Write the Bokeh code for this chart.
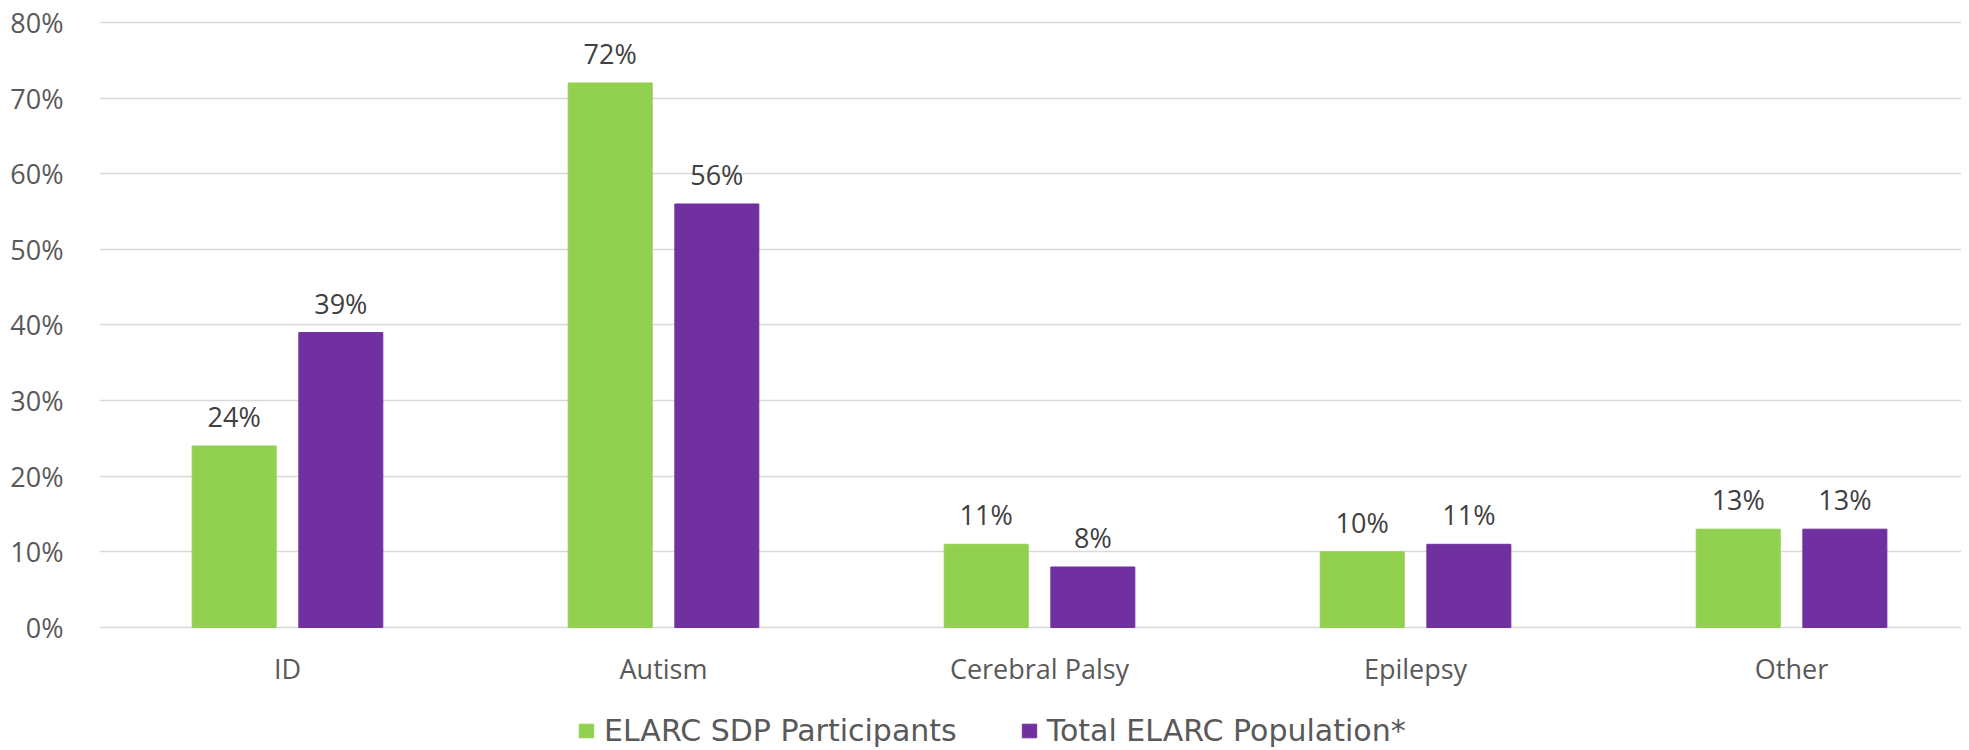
from bokeh.plotting import figure
from bokeh.models import (ColumnDataSource, Range1d, FixedTicker, PrintfTickFormatter,
                          LabelSet, Legend, LegendItem)
from bokeh.core.properties import value
from bokeh.transform import dodge
from bokeh.embed import file_html
from bokeh.resources import INLINE

categories = ["ID", "Autism", "Cerebral Palsy", "Epilepsy", "Other"]
sdp_participants = [24, 72, 11, 10, 13]
total_population = [39, 56, 8, 11, 13]
series_names = ["ELARC SDP Participants", "Total ELARC Population*"]
y_ticks = [0, 10, 20, 30, 40, 50, 60, 70, 80]

GREEN = "#92D050"
PURPLE = "#7030A0"

idx = list(range(len(categories)))
src = ColumnDataSource(dict(
    x=idx,
    cat=categories,
    a=sdp_participants,
    b=total_population,
    la=[f"{v}%" for v in sdp_participants],
    lb=[f"{v}%" for v in total_population],
))

p = figure(width=1961, height=748, output_backend="svg", toolbar_location=None,
           x_range=Range1d(-0.5, 4.452), y_range=Range1d(-16.0, 80.13),
           min_border_left=99, min_border_right=0, min_border_top=21,
           min_border_bottom=0)
p.outline_line_color = None
p.background_fill_color = "white"
p.border_fill_color = "white"

off = 0.1418
bw = 0.2234
ra = p.vbar(x=dodge("x", -off, range=p.x_range), top="a", width=bw, source=src,
            fill_color=GREEN, line_color=GREEN)
rb = p.vbar(x=dodge("x", off, range=p.x_range), top="b", width=bw, source=src,
            fill_color=PURPLE, line_color=PURPLE)

lab_font = "Open Sans"
for col, lcol, o in (("a", "la", -off), ("b", "lb", off)):
    ls = LabelSet(x=dodge("x", o, range=p.x_range), y=col, text=lcol, source=src,
                  text_align="center", text_baseline="alphabetic", y_offset=19,
                  text_font=value(lab_font), text_font_size=value("27px"),
                  text_color="#404040")
    p.add_layout(ls)

# axes
p.yaxis.ticker = FixedTicker(ticks=y_ticks)
p.yaxis.formatter = PrintfTickFormatter(format="%d%%")
p.yaxis.axis_line_color = None
p.yaxis.major_tick_line_color = None
p.yaxis.minor_tick_line_color = None
p.yaxis.major_label_standoff = 30
p.yaxis.major_label_text_font = lab_font
p.yaxis.major_label_text_font_size = "27px"
p.yaxis.major_label_text_color = "#595959"

p.xaxis.fixed_location = 0
p.xaxis.ticker = FixedTicker(ticks=idx)
p.xaxis.major_label_overrides = {i: c for i, c in zip(idx, categories)}
p.xaxis.axis_line_color = None
p.xaxis.major_tick_line_color = None
p.xaxis.minor_tick_line_color = None
p.xaxis.major_label_standoff = 17
p.xaxis.major_label_text_font = lab_font
p.xaxis.major_label_text_font_size = "27px"
p.xaxis.major_label_text_color = "#595959"

p.xgrid.grid_line_color = None
p.ygrid.ticker = FixedTicker(ticks=y_ticks)
p.ygrid.grid_line_color = "#D9D9D9"
p.ygrid.grid_line_width = 1.3

legend = Legend(items=[LegendItem(label=series_names[0], renderers=[ra]),
                       LegendItem(label=series_names[1], renderers=[rb])],
                orientation="horizontal", location=(478, 0),
                border_line_color=None, background_fill_alpha=0,
                glyph_width=18, glyph_height=17, label_standoff=9, spacing=63,
                padding=0, margin=0,
                label_text_font="DejaVu Sans", label_text_font_size="30px",
                label_text_color="#595959")
p.add_layout(legend, "center")

open("out.html", "w").write(file_html(p, INLINE))
